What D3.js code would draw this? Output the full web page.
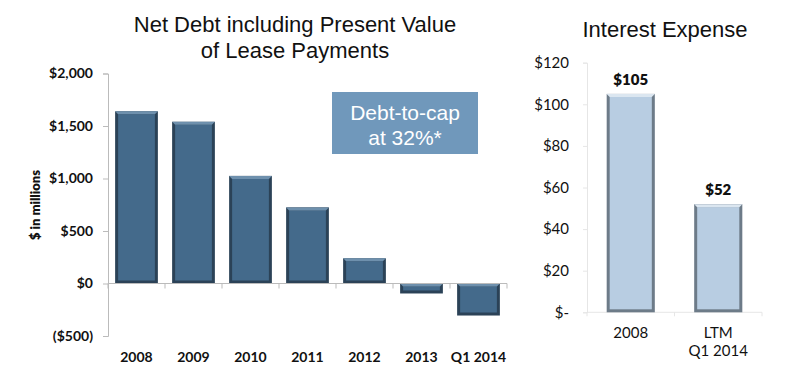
<!DOCTYPE html>
<html>
<head>
<meta charset="utf-8">
<script src="https://cdn.jsdelivr.net/npm/d3@7"></script>
<style>
  body { margin: 0; background: #fff; }
  svg text { font-family: Lato, "Open Sans", sans-serif; fill: #111; }
  .title { font-family: "Liberation Sans", Arial, sans-serif !important; font-size: 22px; }
  .tick text { font-size: 14px; font-weight: 700; }
</style>
</head>
<body>
<div id="chart"></div>
<script>
// left chart: net debt incl. PV of lease payments ($ millions)
var debtYears = ["2008", "2009", "2010", "2011", "2012", "2013", "Q1 2014"];
var debtValues = [1640, 1540, 1025, 725, 240, -95, -305];
var debtTicks = [-500, 0, 500, 1000, 1500, 2000];

// right chart: interest expense ($ millions)
var interestLabels = ["2008", "LTM\nQ1 2014"];
var interestValues = [105, 52];
var interestTicks = [0, 20, 40, 60, 80, 100, 120];

var svg = d3.select("#chart")
  .append("svg")
  .attr("width", 800)
  .attr("height", 374);

// ---------- left chart ----------
var x1 = d3.scaleBand()
  .domain(debtYears)
  .range([108, 507])
  .paddingInner(0.25)
  .paddingOuter(0.125);

var y1 = d3.scaleLinear()
  .domain([-500, 2000])
  .range([336, 73.5]);

function money(d) {
  if (d < 0) return "($" + d3.format(",")(-d) + ")";
  return "$" + d3.format(",")(d);
}

var left = svg.append("g");

var yAxis1 = left.append("g")
  .attr("transform", "translate(108,0)")
  .call(d3.axisLeft(y1).tickValues(debtTicks).tickSize(5).tickPadding(10).tickFormat(money));
yAxis1.select(".domain").attr("stroke", "#bbb");
yAxis1.selectAll(".tick line").attr("stroke", "#bbb");

// bar with dark rim and lighter top bevel
function bevelBar(g, x, y, w, h, fill, dark, light) {
  g.append("rect").attr("x", x).attr("y", y).attr("width", w).attr("height", h)
    .attr("fill", dark);
  var b = Math.min(3, h / 3);
  g.append("rect").attr("x", x + b).attr("y", y + b)
    .attr("width", Math.max(0, w - 2 * b)).attr("height", Math.max(0, h - 2 * b))
    .attr("fill", fill);
  g.append("path")
    .attr("d", "M" + x + "," + y + "h" + w + "l-" + b + "," + b + "h-" + (w - 2 * b) + "z")
    .attr("fill", light);
}

var bars1 = left.append("g");
debtValues.forEach(function(v, i) {
  var top = y1(Math.max(0, v));
  var h = Math.abs(y1(v) - y1(0));
  bevelBar(bars1, x1(debtYears[i]), top, x1.bandwidth(), h, "#446a8b", "#2b4257", "#6e90ad");
});

// x axis line at zero with ticks between categories
var xAxis1 = left.append("g").attr("transform", "translate(0," + y1(0) + ")");
xAxis1.append("line").attr("x1", 108).attr("x2", 507).attr("stroke", "#bbb");
d3.range(debtYears.length + 1).forEach(function(k) {
  var xx = 108 + k * x1.step();
  xAxis1.append("line").attr("x1", xx).attr("x2", xx).attr("y1", 0).attr("y2", 5).attr("stroke", "#bbb");
});

left.selectAll(".cat1")
  .data(debtYears)
  .enter().append("text")
  .attr("x", function(d) { return x1(d) + x1.bandwidth() / 2; })
  .attr("y", 362)
  .attr("text-anchor", "middle")
  .style("font-size", "14px")
  .style("font-weight", 700)
  .text(function(d) { return d; });

left.append("text")
  .attr("transform", "translate(40,205) rotate(-90)")
  .attr("text-anchor", "middle")
  .style("font-size", "13px")
  .style("font-weight", 800)
  .text("$ in millions");

left.append("text").attr("class", "title")
  .attr("x", 295).attr("y", 32).attr("text-anchor", "middle")
  .text("Net Debt including Present Value");
left.append("text").attr("class", "title")
  .attr("x", 295).attr("y", 58).attr("text-anchor", "middle")
  .text("of Lease Payments");

// callout box
left.append("rect")
  .attr("x", 332).attr("y", 92).attr("width", 146).attr("height", 62)
  .attr("fill", "#7098bb");
left.append("text").attr("class", "title")
  .attr("x", 405).attr("y", 120).attr("text-anchor", "middle")
  .style("fill", "#fff").style("font-size", "21px")
  .text("Debt-to-cap");
left.append("text").attr("class", "title")
  .attr("x", 405).attr("y", 145).attr("text-anchor", "middle")
  .style("fill", "#fff").style("font-size", "21px")
  .text("at 32%*");

// ---------- right chart ----------
var x2 = d3.scaleBand()
  .domain(interestLabels)
  .range([587, 762])
  .paddingInner(0.45)
  .paddingOuter(0.225);

var y2 = d3.scaleLinear()
  .domain([0, 120])
  .range([312.3, 62.7]);

var right = svg.append("g");

var yAxis2 = right.append("g")
  .attr("transform", "translate(587,0)")
  .call(d3.axisLeft(y2).tickValues(interestTicks).tickSize(4).tickPadding(14)
    .tickFormat(function(d) { return d === 0 ? "$-" : "$" + d; }));
yAxis2.select(".domain").attr("stroke", "#e6e6e6");
yAxis2.selectAll(".tick line").attr("stroke", "#e6e6e6");
yAxis2.selectAll(".tick text").style("font-size", "15px").style("font-weight", 400);

var xAxis2 = right.append("g").attr("transform", "translate(0," + y2(0) + ")");
xAxis2.append("line").attr("x1", 587).attr("x2", 762).attr("stroke", "#e6e6e6");
d3.range(interestLabels.length + 1).forEach(function(k) {
  var xx = 587 + k * x2.step();
  xAxis2.append("line").attr("x1", xx).attr("x2", xx).attr("y1", 0).attr("y2", 4).attr("stroke", "#e6e6e6");
});

var bars2 = right.append("g");
interestValues.forEach(function(v, i) {
  bevelBar(bars2, x2(interestLabels[i]), y2(v), x2.bandwidth(), y2(0) - y2(v), "#b8cde2", "#6d7b88", "#dbe6f0");
});

right.selectAll(".val2")
  .data(interestValues)
  .enter().append("text")
  .attr("x", function(d, i) { return x2(interestLabels[i]) + x2.bandwidth() / 2; })
  .attr("y", function(d) { return y2(d) - 9; })
  .attr("text-anchor", "middle")
  .style("font-size", "15px")
  .style("font-weight", 800)
  .text(function(d) { return "$" + d; });

right.selectAll(".cat2")
  .data(interestLabels)
  .enter().append("text")
  .attr("x", function(d) { return x2(d) + x2.bandwidth() / 2; })
  .attr("y", 338)
  .attr("text-anchor", "middle")
  .style("font-size", "15px")
  .each(function(d) {
    var t = d3.select(this);
    d.split("\n").forEach(function(line, j) {
      t.append("tspan")
        .attr("x", t.attr("x"))
        .attr("dy", j === 0 ? 0 : 18)
        .text(line);
    });
  });

right.append("text").attr("class", "title")
  .attr("x", 665).attr("y", 37).attr("text-anchor", "middle")
  .text("Interest Expense");
</script>
</body>
</html>
